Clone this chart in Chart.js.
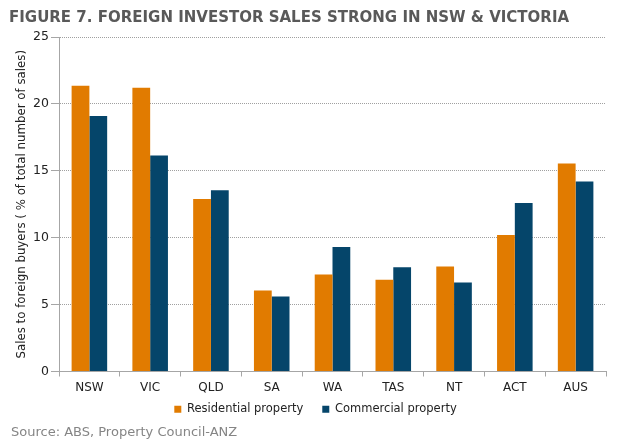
<!DOCTYPE html>
<html>
<head>
<meta charset="utf-8">
<script src="https://cdn.jsdelivr.net/npm/chart.js@4.4.0/dist/chart.umd.min.js"></script>
<style>
  body { margin: 0; background: #fff; }
  #wrap { position: relative; width: 617px; height: 444px; overflow: hidden; }
  #chart { position: absolute; left: 0; top: 0; }
  .title { position: absolute; left: 9px; top: 8px; font: bold 15px "DejaVu Sans", sans-serif; color: #595959; white-space: nowrap; }
  .source { position: absolute; left: 11px; top: 424px; font: 13px "DejaVu Sans", sans-serif; color: #858585; white-space: nowrap; }
</style>
</head>
<body>
<div id="wrap">
  <canvas id="chart" width="617" height="444"></canvas>
  <div class="title">FIGURE 7. FOREIGN INVESTOR SALES STRONG IN NSW &amp; VICTORIA</div>
  <div class="source">Source: ABS, Property Council-ANZ</div>
</div>
<script>
const STATES = ["NSW", "VIC", "QLD", "SA", "WA", "TAS", "NT", "ACT", "AUS"];
const RESIDENTIAL = [21.35, 21.2, 12.9, 6.05, 7.25, 6.85, 7.85, 10.2, 15.55];
const COMMERCIAL = [19.1, 16.15, 13.55, 5.6, 9.3, 7.8, 6.65, 12.6, 14.2];
const Y_TICKS = [0, 5, 10, 15, 20, 25];

const COLORS = { res: "#e17b00", com: "#05456a", axis: "#a6a6a6", grid: "#a0a0a0", text: "#222" };
const FONT = "'DejaVu Sans', sans-serif";

// the x axis box is kept short so the legend sits close; let its labels spill below it
const unclipXLabels = {
  id: "unclipXLabels",
  afterLayout(chart) { chart.scales.x.bottom += 20; },
};

const ctx = document.getElementById("chart").getContext("2d");
new Chart(ctx, {
  type: "bar",
  data: {
    labels: STATES,
    datasets: [
      { label: "Residential property", data: RESIDENTIAL, backgroundColor: COLORS.res },
      { label: "Commercial property", data: COMMERCIAL, backgroundColor: COLORS.com },
    ],
  },
  plugins: [unclipXLabels],
  options: {
    responsive: false,
    animation: false,
    categoryPercentage: 0.585,
    barPercentage: 1.0,
    layout: { padding: { top: 37, right: 11, bottom: 19, left: 25 } },
    plugins: {
      tooltip: { enabled: false },
      legend: {
        position: "bottom",
        labels: {
          boxWidth: 7, boxHeight: 7, padding: 19,
          color: COLORS.text, font: { family: FONT, size: 11.5 },
        },
      },
    },
    scales: {
      x: {
        afterFit: s => { s.height = 13; },
        grid: { offset: true, drawOnChartArea: false, drawTicks: true, tickLength: 5, tickColor: COLORS.axis },
        border: { color: COLORS.axis, width: 1 },
        ticks: { color: COLORS.text, padding: 4, font: { family: FONT, size: 12 } },
      },
      y: {
        min: 0, max: 25,
        afterFit: s => { s.width = 34; },
        afterBuildTicks: s => { s.ticks = Y_TICKS.map(v => ({ value: v })); },
        grid: { color: COLORS.grid, lineWidth: 1, tickLength: 8, tickColor: COLORS.axis },
        border: { color: COLORS.axis, width: 1, dash: [1, 1] },
        ticks: { color: COLORS.text, padding: 2, font: { family: FONT, size: 12.5 } },
        title: {
          display: true,
          text: "Sales to foreign buyers ( % of total number of sales)",
          color: COLORS.text,
          font: { family: FONT, size: 11.8 },
          padding: { top: -10, bottom: 0 },
        },
      },
    },
  },
});
</script>
</body>
</html>
